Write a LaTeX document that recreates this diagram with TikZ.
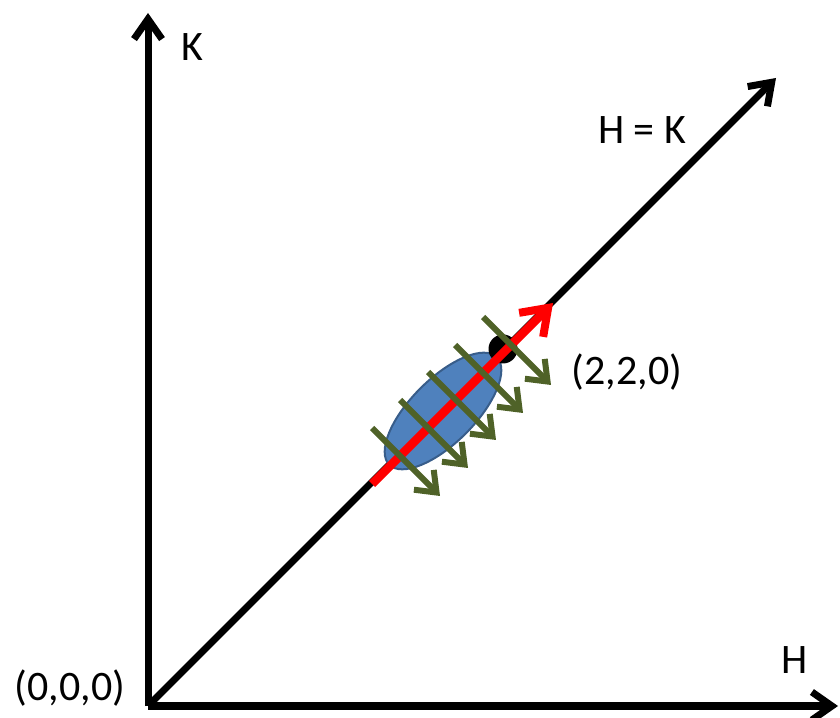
\documentclass[tikz,border=0pt]{standalone}
\usepackage{fontspec}
\setmainfont{Carlito}
\usetikzlibrary{arrows.meta}
\definecolor{olivegreen}{HTML}{4F6228}
\definecolor{ellfill}{HTML}{4F81BD}
\definecolor{elldraw}{HTML}{385D8A}
\begin{document}
\begin{tikzpicture}[x=1pt,y=1pt,
  axis/.style={line width=7pt,-{Straight Barb[length=20pt,width=28pt,line width=7pt]}},
  lab/.style={font=\fontsize{42}{46}\selectfont,inner sep=0pt},
  garrow/.style={draw=olivegreen,line width=6pt,-{Straight Barb[length=18pt,width=28pt,line width=6pt]}},
  rarrow/.style={draw=red,line width=8.5pt,-{Straight Barb[length=24pt,width=34pt,line width=8pt]}}]
\useasboundingbox (0,0) rectangle (840,717);
\coordinate (O) at (148,11);
\coordinate (Ktop) at (148,704);
\coordinate (Hend) at (838,11);
\coordinate (Dend) at (776,639);
% axes
\draw[axis] (O) -- (Ktop);
\draw[axis] (O) -- (Hend);
\draw[axis] (O) -- (Dend);
% ellipse
\draw[fill=ellfill,draw=elldraw,line width=2pt,rotate around={45:(443,306)}] (443,306) ellipse [x radius=76, y radius=32];
% dot
\node[circle,fill=black,minimum size=29pt,inner sep=0pt] (dot) at (503,368) {};
% red arrow
\coordinate (r1) at (372,233);
\coordinate (r2) at (553,414);
\draw[rarrow] (r1) -- (r2);
% green arrows
\foreach \i/\x/\y in {1/372/289,2/400/317,3/428/345,4/455/372,5/483/400}{
  \coordinate (gs\i) at (\x,\y);
  \coordinate (ge\i) at (\x+68,\y-68);
  \draw[garrow] (gs\i) -- (ge\i);
}
% labels
\node[lab] (lK) at (192,670) {K};
\node[lab] (lHK) at (642,587) {H = K};
\node[lab] (lH) at (795,57) {H};
\node[lab] (l0) at (70,29) {(0,0,0)};
\node[lab] (l2) at (627,345) {(2,2,0)};
\end{tikzpicture}
\end{document}
